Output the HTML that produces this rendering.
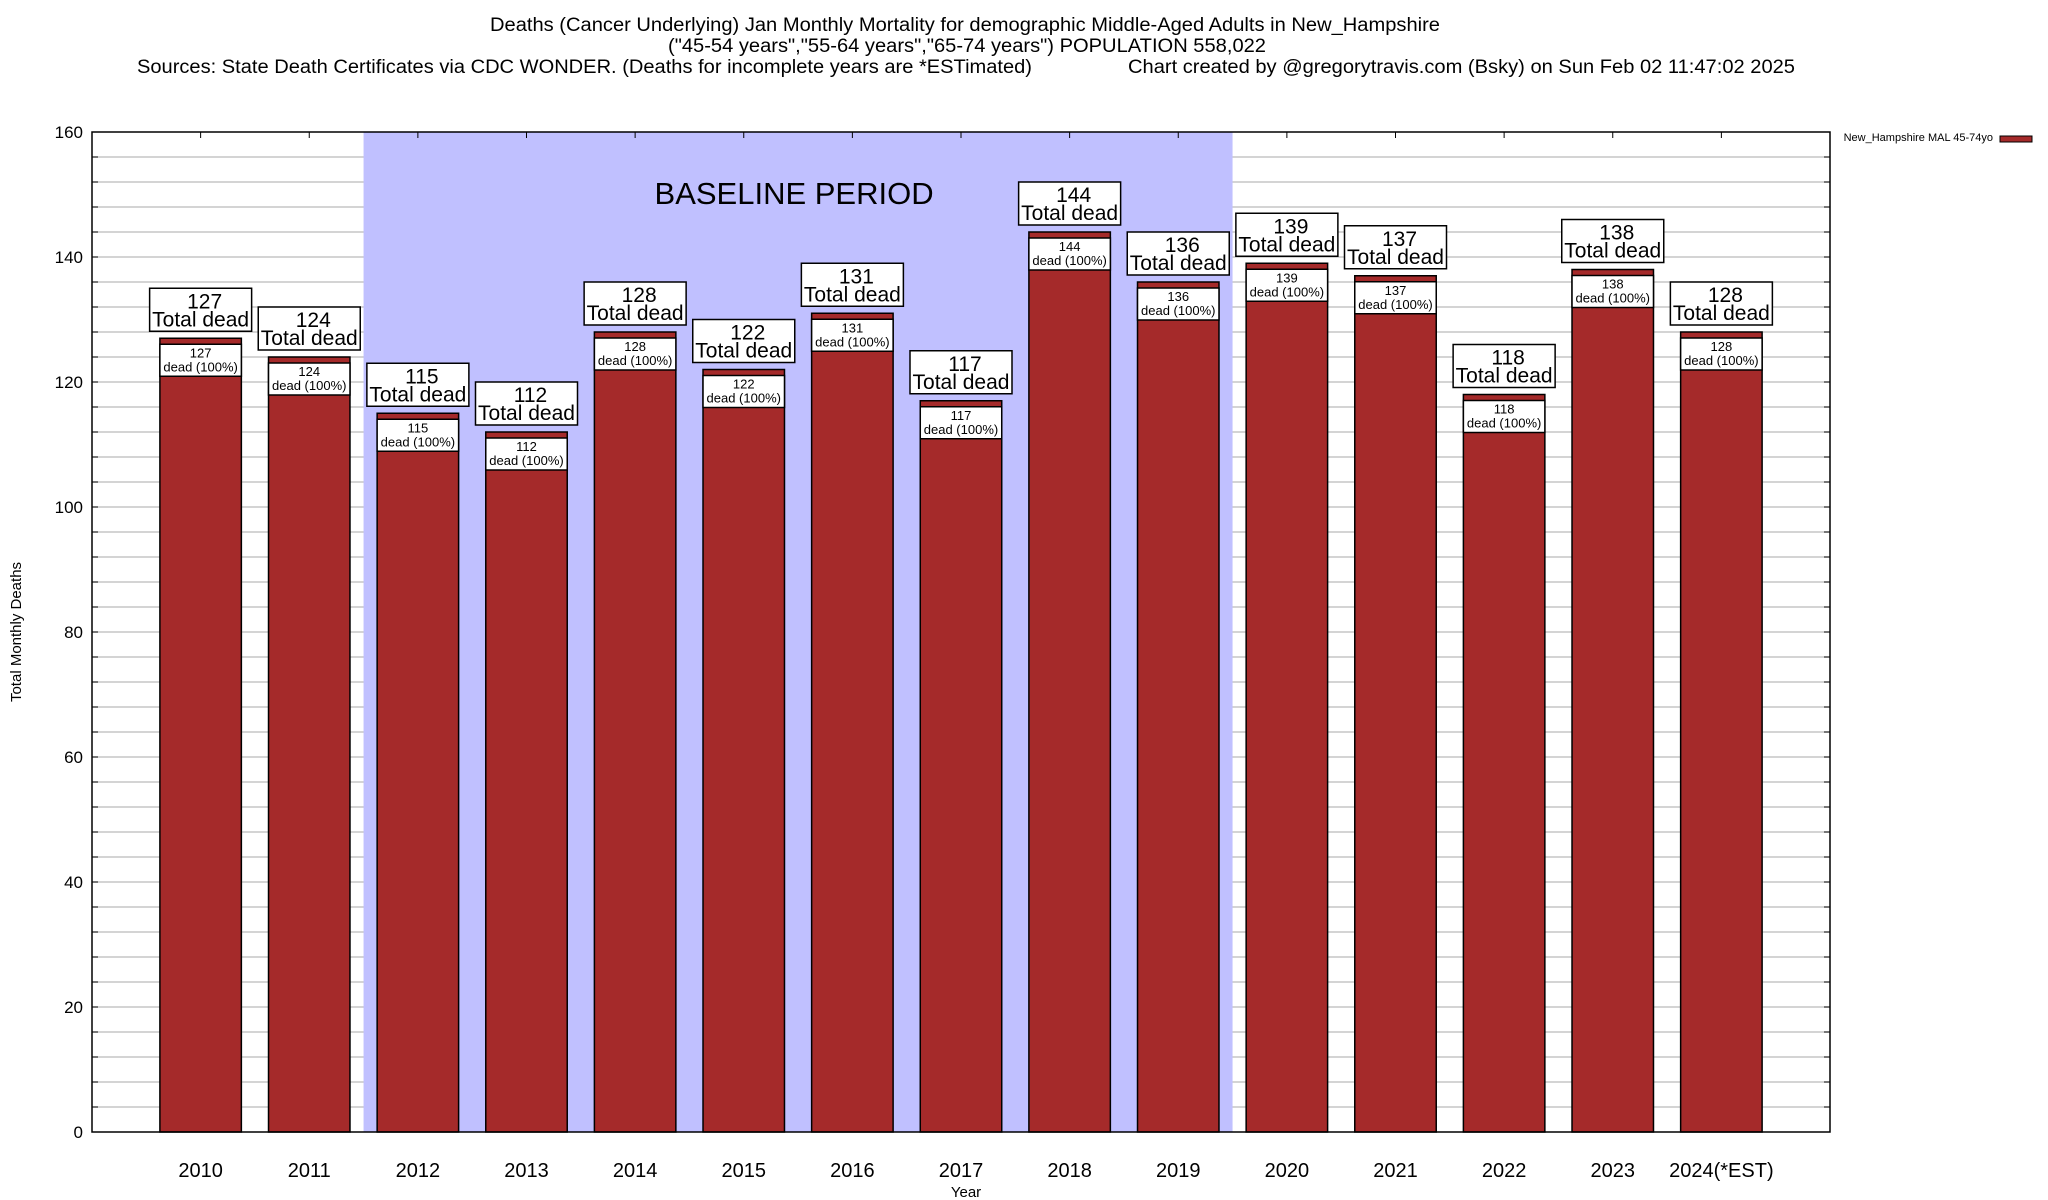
<!DOCTYPE html>
<html><head><meta charset="utf-8"><style>
html,body{margin:0;padding:0;background:#fff;}
svg{display:block;font-family:"Liberation Sans",Arial,sans-serif;}
</style></head><body>
<svg id="chart" width="2048" height="1200" viewBox="0 0 2048 1200">
<g>
<text x="490" y="31" font-size="19" textLength="950" lengthAdjust="spacingAndGlyphs">Deaths (Cancer Underlying) Jan Monthly Mortality for demographic Middle-Aged Adults in New_Hampshire</text>
<text x="668" y="52" font-size="19" textLength="598" lengthAdjust="spacingAndGlyphs">("45-54 years","55-64 years","65-74 years") POPULATION 558,022</text>
<text x="137" y="73" font-size="19" textLength="895" lengthAdjust="spacingAndGlyphs">Sources: State Death Certificates via CDC WONDER. (Deaths for incomplete years are *ESTimated)</text>
<text x="1128" y="73" font-size="19" textLength="667" lengthAdjust="spacingAndGlyphs">Chart created by @gregorytravis.com (Bsky) on Sun Feb 02 11:47:02 2025</text>
</g>
<g id="grid"></g>
<rect id="shade" fill="#c0c0ff"/>
<text id="baselbl" font-size="31" text-anchor="middle">BASELINE PERIOD</text>
<g id="bars"></g>
<g id="axes"></g>
<text x="0" y="0" font-size="15" text-anchor="middle" transform="translate(21,632) rotate(-90)">Total Monthly Deaths</text>
<text x="966" y="1197" font-size="15" text-anchor="middle">Year</text>
<g>
<text x="1993" y="141" font-size="11" text-anchor="end">New_Hampshire MAL 45-74yo</text>
<rect x="2000" y="136" width="32" height="6" fill="#a52a2a" stroke="#000" stroke-width="1"/>
</g>
</svg>
<script>
const categories = ["2010","2011","2012","2013","2014","2015","2016","2017","2018","2019","2020","2021","2022","2023","2024(*EST)"];
const values = [127,124,115,112,128,122,131,117,144,136,139,137,118,138,128];
const yTicks = [0,20,40,60,80,100,120,140,160];
const baselineStart = 2;
const baselineEnd = 9;

const NS = "http://www.w3.org/2000/svg";
const L = 92, R = 1830, T = 132, B = 1132, YMAX = 160;
const step = (R - L) / (categories.length + 1);
const bw = step * 0.75;
function y(v){ return B - (B - T) * v / YMAX; }
function xc(i){ return L + (i + 1) * step; }
function mk(tag, attrs, parent){ const e = document.createElementNS(NS, tag); for (const k in attrs) e.setAttribute(k, attrs[k]); parent.appendChild(e); return e; }

const grid = document.getElementById('grid');
const axes = document.getElementById('axes');
for (let v = 4; v < YMAX; v += 4) {
  const ln = mk('line', {x1:L, x2:R, y1:y(v), y2:y(v), stroke:'#bbb', 'stroke-width':1.3}, grid);
  
  
  const t1 = mk('line', {x1:L, x2:L+6, y1:y(v), y2:y(v), stroke:'#000'}, axes);
  
  
  const t2 = mk('line', {x1:R-6, x2:R, y1:y(v), y2:y(v), stroke:'#000'}, axes);
  
  
}
const shade = document.getElementById('shade');
const sx1 = xc(baselineStart) - step/2, sx2 = xc(baselineEnd) + step/2;
shade.setAttribute('x', sx1); shade.setAttribute('y', T); shade.setAttribute('width', sx2 - sx1); shade.setAttribute('height', B - T);
const bl = document.getElementById('baselbl');
bl.setAttribute('x', (sx1 + sx2) / 2 - 4); bl.setAttribute('y', 204);

const bars = document.getElementById('bars');
values.forEach((v, i) => {
  const g = mk('g', {}, bars);
  
  
  const x0 = xc(i) - bw/2, top = y(v);
  const r = mk('rect', {x:x0, y:top, width:bw, height:B-top, fill:'#a52a2a', stroke:'#000', 'stroke-width':1.5}, g);
  
  
  const ib = mk('rect', {x:x0, y:top+6, width:bw, height:32, fill:'#fff', stroke:'#000', 'stroke-width':1.5}, g);
  
  
  const it1 = mk('text', {x:xc(i), y:top+19, 'font-size':13, 'text-anchor':'middle'}, g);
  it1.textContent = v;
  
  
  const it2 = mk('text', {x:xc(i), y:top+33, 'font-size':13, 'text-anchor':'middle'}, g);
  it2.textContent = 'dead (100%)';
  
  
  const ob = mk('rect', {x:xc(i)-51, y:top-50, width:102, height:43, fill:'#fff', stroke:'#000', 'stroke-width':1.5}, g);
  
  
  const ot1 = mk('text', {x:xc(i)+4, y:top-30, 'font-size':21, 'text-anchor':'middle'}, g);
  ot1.textContent = v;
  
  
  const ot2 = mk('text', {x:xc(i), y:top-12, 'font-size':21, 'text-anchor':'middle'}, g);
  ot2.textContent = 'Total dead';
  
  
  const xl = mk('text', {x:xc(i), y:1177, 'font-size':20, 'text-anchor':'middle'}, axes);
  xl.textContent = categories[i];
  
  
  const tt = mk('line', {x1:xc(i), x2:xc(i), y1:T, y2:T+6, stroke:'#000'}, axes);
  
  
});
yTicks.forEach(v => {
  const t = mk('text', {x:83, y:y(v)+6, 'font-size':17, 'text-anchor':'end'}, axes);
  t.textContent = v;
  
  
});
const frame = mk('rect', {x:L, y:T, width:R-L, height:B-T, fill:'none', stroke:'#000', 'stroke-width':1.5}, axes);


</script>
</body></html>
